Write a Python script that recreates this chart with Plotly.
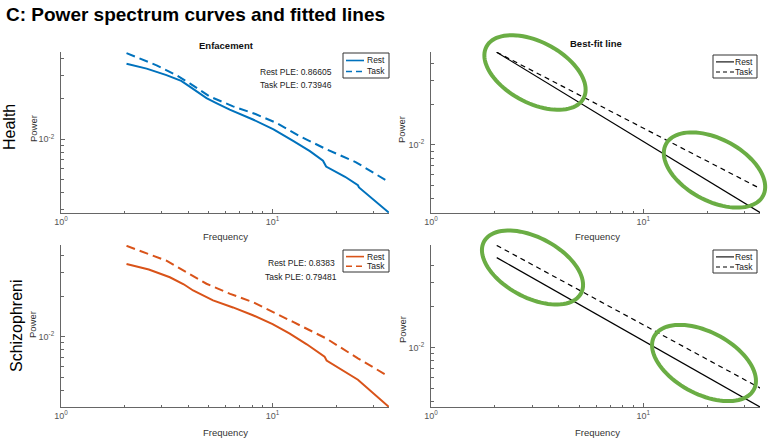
import math
import plotly.graph_objects as go

# ---------------- data ----------------
health_rest_freq = [2.04, 2.54, 3.15, 3.7, 4.06, 4.5, 4.87, 5.42, 6.27, 8.07, 10.1, 12.5, 15.0, 17.3, 17.9, 22.0, 25.3, 25.6, 35.4]
health_rest_pow = [0.03656, 0.03357, 0.03006, 0.0272, 0.02466, 0.0222, 0.02023, 0.01858, 0.01663, 0.01403, 0.01186,
                   0.00973, 0.00815, 0.00692, 0.00625, 0.00525, 0.00454, 0.00437, 0.00284]
health_task_freq = [2.04, 2.83, 3.5, 4.06, 5.04, 6.5, 8.3, 10.4, 13.4, 17.9, 24.8, 35.4]
health_task_pow = [0.04385, 0.03556, 0.0301, 0.02606, 0.0208, 0.01758, 0.0154, 0.01324, 0.01057, 0.00843,
                   0.00673, 0.0048]

schiz_rest_freq = [2.04, 2.6, 3.27, 3.8, 4.21, 5.23, 6.5, 8.07, 10.0, 12.0, 14.5, 17.6, 18.0, 25.3, 35.4]
schiz_rest_pow = [0.03467, 0.03150, 0.02761, 0.0245, 0.02203, 0.01862, 0.0165, 0.01445, 0.0124, 0.01059,
                  0.0088, 0.00713, 0.00667, 0.00481, 0.00303]
schiz_task_freq = [2.04, 3.15, 4.0, 4.87, 6.3, 8.07, 12.5, 17.9, 25.3, 35.4]
schiz_task_pow = [0.04721, 0.03664, 0.0295, 0.02472, 0.0208, 0.01807, 0.01288, 0.00973, 0.00693, 0.00508]

fit_freq = [2.04, 35.6]
health_fit_rest = [0.04875, 0.00314]
health_fit_task = [0.04875, 0.00474]
schiz_fit_rest = [0.04592, 0.00362]
schiz_fit_task = [0.05649, 0.00500]

health_ple = {"Rest": "0.86605", "Task": "0.73946"}
schiz_ple = {"Rest": "0.8383", "Task": "0.79481"}
legend_names = ["Rest", "Task"]

x_major = [1, 10]
x_major_text = ["10<sup>0</sup>", "10<sup>1</sup>"]
x_minor = [2, 3, 4, 5, 6, 7, 8, 9, 20, 30]
y_major = [0.01]
y_major_text = ["10<sup>-2</sup>"]
y_minor = [0.003, 0.004, 0.005, 0.006, 0.007, 0.008, 0.009, 0.02, 0.03, 0.04]

# ---------------- helpers ----------------
FONT = "Liberation Sans, Arial, Helvetica, sans-serif"
BLUE = "#0072BD"
ORANGE = "#D95319"
GREEN = "#6aad44"
W, H = 773, 440


def px(x):
    return x / W


def py(y):
    return 1 - y / H


# panel boxes in page pixels: (left, right, top, bottom)
panels = {
    1: (61, 389, 52, 213),
    2: (431, 760, 52, 213),
    3: (61, 389, 245, 407),
    4: (431, 760, 245, 407),
}
yranges = {1: [-2.55, -1.35], 2: [-2.505, -1.31], 3: [-2.52, -1.32], 4: [-2.44, -1.245]}

fig = go.Figure()


def add(freq, powr, color, dash, width, name, idx):
    fig.add_trace(go.Scatter(
        x=freq, y=powr, mode="lines", name=name,
        line=dict(color=color, width=width, dash=dash),
        xaxis="x" if idx == 1 else f"x{idx}", yaxis="y" if idx == 1 else f"y{idx}",
        showlegend=False, hoverinfo="skip"))


DASH_DATA = "9px,5px"
DASH_FIT = "5px,4px"
add(health_rest_freq, health_rest_pow, BLUE, "solid", 2, "Rest", 1)
add(health_task_freq, health_task_pow, BLUE, DASH_DATA, 2, "Task", 1)
add(fit_freq, health_fit_rest, "black", "solid", 1.2, "Rest", 2)
add(fit_freq, health_fit_task, "black", DASH_FIT, 1.2, "Task", 2)
add(schiz_rest_freq, schiz_rest_pow, ORANGE, "solid", 2, "Rest", 3)
add(schiz_task_freq, schiz_task_pow, ORANGE, DASH_DATA, 2, "Task", 3)
add(fit_freq, schiz_fit_rest, "black", "solid", 1.2, "Rest", 4)
add(fit_freq, schiz_fit_task, "black", DASH_FIT, 1.2, "Task", 4)

layout = dict(
    width=W, height=H, margin=dict(l=0, r=0, t=0, b=0),
    paper_bgcolor="white", plot_bgcolor="white",
    font=dict(family=FONT, color="#333", size=9),
    showlegend=False,
)

for idx, (l, r, t, b) in panels.items():
    xs = "xaxis" if idx == 1 else f"xaxis{idx}"
    ys = "yaxis" if idx == 1 else f"yaxis{idx}"
    anchor_y = "y" if idx == 1 else f"y{idx}"
    anchor_x = "x" if idx == 1 else f"x{idx}"
    common = dict(showline=True, linecolor="#666", linewidth=1, mirror=False,
                  ticks="inside", ticklen=4, tickcolor="#666", showgrid=False, zeroline=False,
                  tickfont=dict(size=9, color="#555", family=FONT), automargin=False,
                  fixedrange=True)
    layout[xs] = dict(common, type="log", range=[0, 1.55], domain=[px(l), px(r)], anchor=anchor_y,
                      tickmode="array", tickvals=x_major, ticktext=x_major_text,
                      minor=dict(tickmode="array", tickvals=x_minor, ticks="inside", ticklen=2.5,
                                 tickcolor="#666", showgrid=False))
    layout[ys] = dict(common, type="log", range=yranges[idx], domain=[py(b), py(t)], anchor=anchor_x,
                      tickmode="array", tickvals=y_major, ticktext=y_major_text, ticklabelstandoff=4,
                      minor=dict(tickmode="array", tickvals=y_minor, ticks="inside", ticklen=2.5,
                                 tickcolor="#666", showgrid=False))

fig.update_layout(**layout)


def text(x, y, s, size=9, bold=False, angle=0, color="#222", xanchor="center"):
    fig.add_annotation(x=px(x), y=py(y), xref="paper", yref="paper", text=f"<b>{s}</b>" if bold else s,
                       showarrow=False, textangle=angle, xanchor=xanchor, yanchor="middle",
                       font=dict(size=size, color=color, family=FONT))


text(4, 15, "C: Power spectrum curves and fitted lines", size=19, bold=True, color="black", xanchor="left")
text(226, 45, "Enfacement", size=9.5, bold=True, color="#111")
text(596, 44, "Best-fit line", size=9.5, bold=True, color="#111")
for xc in (225, 597):
    text(xc, 236, "Frequency", size=9.5, color="#333")
    text(xc, 432, "Frequency", size=9.5, color="#333")
text(402, 130, "Power", size=9.5, angle=-90, color="#333")
text(402, 330, "Power", size=9.5, angle=-90, color="#333")
text(33, 129, "Power", size=9.5, angle=-90, color="#333")
text(32, 325, "Power", size=9.5, angle=-90, color="#333")
text(10, 127, "Health", size=16, angle=-90, color="black")
text(16, 326, "Schizophreni", size=16, angle=-90, color="black")

text(296, 72, f"Rest PLE: {health_ple['Rest']}", size=8.5)
text(296, 85, f"Task PLE: {health_ple['Task']}", size=8.5)
text(301, 263, f"Rest PLE: {schiz_ple['Rest']}", size=8.5)
text(301, 277, f"Task PLE: {schiz_ple['Task']}", size=8.5)


# MATLAB-style legend boxes (box left, right, top, bottom), line colour, dash
def legend_box(l, r, t, b, color, dash):
    fig.add_shape(type="rect", x0=px(l), x1=px(r), y0=py(b), y1=py(t), xref="paper", yref="paper",
                  line=dict(color="#333", width=1), fillcolor="white", layer="above")
    rows = [t + (b - t) * 0.3, t + (b - t) * 0.74]
    for name, yy, d in zip(legend_names, rows, ["solid", dash]):
        fig.add_shape(type="line", x0=px(l + 3), x1=px(l + 21), y0=py(yy), y1=py(yy), xref="paper",
                      yref="paper", line=dict(color=color, width=1.6 if color != "black" else 1.1, dash=d),
                      layer="above")
        text(r - 2, yy, name, size=8.5, color="#222", xanchor="right")


legend_box(343, 389, 53, 78, BLUE, "6px,4px")
legend_box(713, 757, 55, 78, "black", "4px,3px")
legend_box(343, 389, 250, 272, ORANGE, "6px,4px")
legend_box(713, 757, 250, 273, "black", "4px,3px")


# green highlight ellipses (decoration, pixel geometry)
def ellipse_path(cx, cy, a, b, ang_deg, n=90):
    th = math.radians(ang_deg)
    pts = []
    for i in range(n):
        t = 2 * math.pi * i / n
        x = cx + a * math.cos(th) * math.cos(t) - b * math.sin(th) * math.sin(t)
        y = cy + a * math.sin(th) * math.cos(t) + b * math.cos(th) * math.sin(t)
        pts.append(f"{px(x):.5f},{py(y):.5f}")
    return "M " + " L ".join(pts) + " Z"


for cx, cy, a, b in [(535, 72.5, 55, 30.5), (714.5, 170, 55, 31), (532.5, 267.5, 55, 30), (704, 363, 56.5, 31)]:
    fig.add_shape(type="path", path=ellipse_path(cx, cy, a, b, 28), xref="paper", yref="paper",
                  line=dict(color=GREEN, width=4))

fig.write_html("out.html", config={"displayModeBar": False},
               post_script="document.body.style.margin='0px';")
